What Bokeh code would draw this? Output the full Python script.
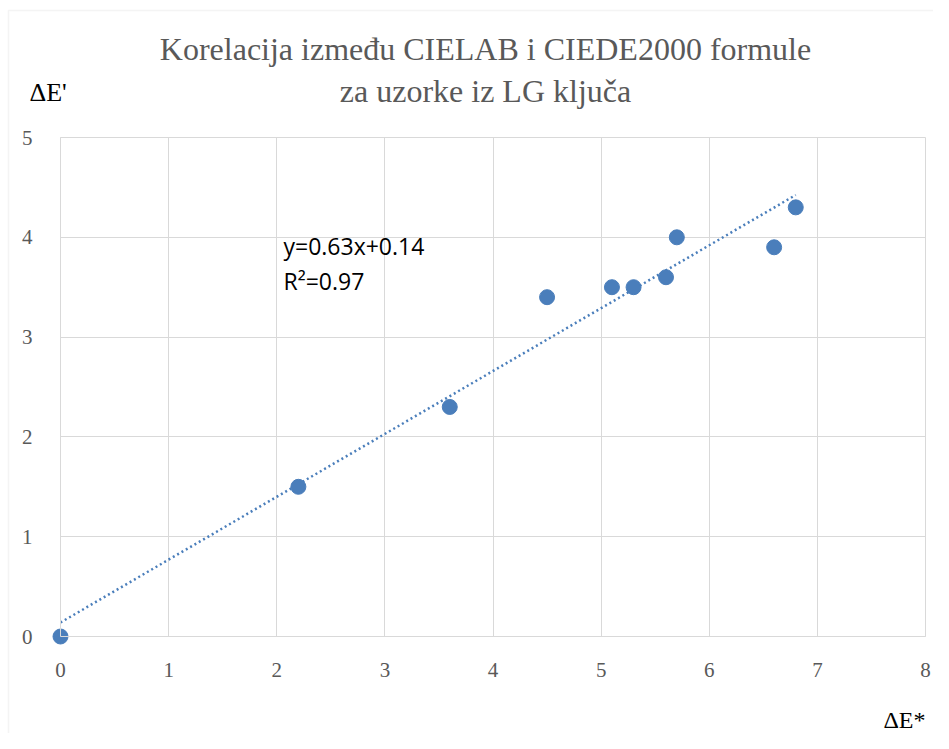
from bokeh.plotting import figure
from bokeh.models import Label, Range1d, FixedTicker, BoxAnnotation
from bokeh.embed import file_html
from bokeh.resources import INLINE
import numpy as np

# Data
de_star = [0.0, 2.2, 3.6, 4.5, 5.1, 5.3, 5.6, 5.7, 6.6, 6.8]
de_prime = [0.0, 1.5, 2.3, 3.4, 3.5, 3.5, 3.6, 4.0, 3.9, 4.3]
slope = 0.63
intercept = 0.14
trend_x = [0.0, 6.8]
x_ticks = [0, 1, 2, 3, 4, 5, 6, 7, 8]
y_ticks = [0, 1, 2, 3, 4, 5]
title_lines = ["Korelacija između CIELAB i CIEDE2000 formule", "za uzorke iz LG ključa"]
eq_lines = ["y=0.63x+0.14", "R²=0.97"]

blue = "#4a7ebb"
grid = "#d9d9d9"
tickc = "#595959"

W, H = 933, 733
# pixel geometry of the chart area inside the canvas
px_left, px_right, px_top, px_bottom = 60, 925, 137, 636
sx = (px_right - px_left) / (x_ticks[-1] - x_ticks[0])
sy = (px_bottom - px_top) / (y_ticks[-1] - y_ticks[0])
x_range = Range1d(x_ticks[0] - px_left / sx, x_ticks[-1] + (W - px_right) / sx)
y_range = Range1d(y_ticks[0] - (H - px_bottom) / sy, y_ticks[-1] + px_top / sy)

p = figure(width=W, height=H, output_backend="svg", toolbar_location=None,
           x_range=x_range, y_range=y_range, min_border=0)
p.title.visible = False
p.outline_line_color = None
p.background_fill_color = "white"
p.border_fill_color = "white"

for ax in (p.xaxis[0], p.yaxis[0]):
    ax.major_tick_line_color = None
    ax.minor_tick_line_color = None
    ax.axis_line_color = grid
    ax.major_label_text_font = "Liberation Sans Narrow"
    ax.major_label_text_font_size = "21px"
    ax.major_label_text_color = tickc
p.xaxis.ticker = FixedTicker(ticks=x_ticks)
p.yaxis.ticker = FixedTicker(ticks=y_ticks)
p.xaxis.fixed_location = y_ticks[0]
p.yaxis.fixed_location = x_ticks[0]
p.xaxis.bounds = (x_ticks[0], x_ticks[-1])
p.yaxis.bounds = (y_ticks[0], y_ticks[-1])
p.xaxis.major_label_standoff = 20
p.yaxis.major_label_standoff = 22

# grid lines limited to the chart area
g0 = p.xgrid[0]
if "cross_bounds" in g0.properties():
    p.xgrid.ticker = FixedTicker(ticks=x_ticks)
    p.ygrid.ticker = FixedTicker(ticks=y_ticks)
    p.xgrid.grid_line_color = grid
    p.ygrid.grid_line_color = grid
    p.xgrid.bounds = (x_ticks[0], x_ticks[-1])
    p.ygrid.bounds = (y_ticks[0], y_ticks[-1])
    p.xgrid.cross_bounds = (y_ticks[0], y_ticks[-1])
    p.ygrid.cross_bounds = (x_ticks[0], x_ticks[-1])
else:
    p.xgrid.visible = False
    p.ygrid.visible = False
    p.segment(x0=x_ticks, y0=[y_ticks[0]] * len(x_ticks), x1=x_ticks, y1=[y_ticks[-1]] * len(x_ticks),
              line_color=grid, line_width=1, level="underlay")
    p.segment(x0=[x_ticks[0]] * len(y_ticks), y0=y_ticks, x1=[x_ticks[-1]] * len(y_ticks), y1=y_ticks,
              line_color=grid, line_width=1, level="underlay")

tx = np.array(trend_x)
p.line(tx, slope * tx + intercept, line_color=blue, line_width=2.5, line_dash="2 3")
p.scatter(de_star, de_prime, size=15, fill_color=blue, line_color=blue)

def px2x(px):
    return x_ticks[0] + (px - px_left) / sx

def px2y(py):
    return y_ticks[0] + (px_bottom - py) / sy

# chart-area border (continues past the right and bottom edges)
p.add_layout(BoxAnnotation(left=px2x(8), top=px2y(10), right=px2x(980), bottom=px2y(790),
                           fill_alpha=0, line_color=grid, line_width=1.5, level="underlay"))

# Title
for txt, cy in zip(title_lines, [48, 90]):
    p.add_layout(Label(x=px2x(485), y=px2y(cy), text=txt, text_align="center", text_baseline="middle",
                       text_font="Liberation Serif", text_font_size="32px", text_color=tickc))

# axis titles
p.add_layout(Label(x=px2x(29), y=px2y(92), text="ΔE'", text_align="left", text_baseline="middle",
                   text_font="Liberation Serif", text_font_size="26px", text_color="black"))
p.add_layout(Label(x=px2x(925), y=px2y(719), text="ΔE*", text_align="right", text_baseline="middle",
                   text_font="Liberation Serif", text_font_size="24px", text_color="black"))

# Equation
for txt, cy in zip(eq_lines, [245, 280]):
    p.add_layout(Label(x=px2x(283), y=px2y(cy), text=txt, text_align="left", text_baseline="middle",
                       text_font="Open Sans", text_font_size="23px", text_color="black"))

open("out.html", "w").write(file_html(p, INLINE))
